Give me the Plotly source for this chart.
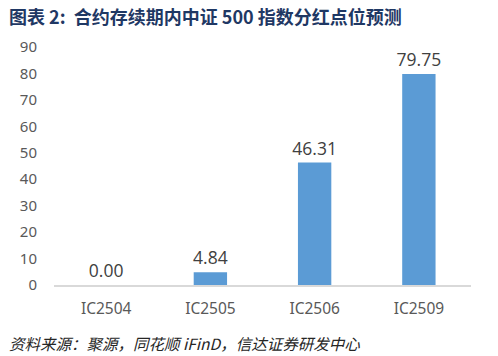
import plotly.graph_objects as go

categories = ["IC2504", "IC2505", "IC2506", "IC2509"]
values = [0.00, 4.84, 46.31, 79.75]
tick_vals = [0, 10, 20, 30, 40, 50, 60, 70, 80, 90]

fig = go.Figure(go.Bar(
    x=categories, y=values,
    marker=dict(color="#5B9BD5", line=dict(width=0)),
    text=[f"{v:.2f}" for v in values],
    textposition="outside",
    constraintext="none",
    textfont=dict(size=17.5, color="#404040", family="Open Sans, Noto Sans, sans-serif"),
    cliponaxis=False,
))

fig.update_layout(
    width=498, height=356,
    margin=dict(l=54, r=27, t=47, b=71),
    paper_bgcolor="white", plot_bgcolor="white",
    bargap=0.68,
    showlegend=False,
    font=dict(family="Noto Sans, Open Sans, sans-serif", color="#595959"),
    xaxis=dict(showgrid=False, showline=True, linecolor="#D9D9D9", linewidth=1.5,
               ticks="", tickfont=dict(size=15.5, color="#595959"), ticklabelstandoff=9),
    yaxis=dict(range=[0, 90], tickvals=tick_vals, showgrid=False, zeroline=False,
               showline=False, ticks="", tickfont=dict(size=15, color="#595959"),
               ticklabelstandoff=16),
    annotations=[
        dict(text="<b>图表 2:  合约存续期内中证 500 指数分红点位预测</b>", x=0, y=1,
             xref="paper", yref="paper", xanchor="left", yanchor="top",
             xshift=-47, yshift=47 - 1, showarrow=False,
             font=dict(size=18, color="#1F3864", family="Noto Sans CJK SC, sans-serif")),
        dict(text="<i>资料来源：聚源，同花顺 iFinD，信达证券研发中心</i>", x=0, y=0,
             xref="paper", yref="paper", xanchor="left", yanchor="top",
             xshift=-47, yshift=-45, showarrow=False,
             font=dict(size=15.5, color="#262626", family="Noto Sans CJK SC, sans-serif")),
    ],
)

fig.write_html("out.html")
